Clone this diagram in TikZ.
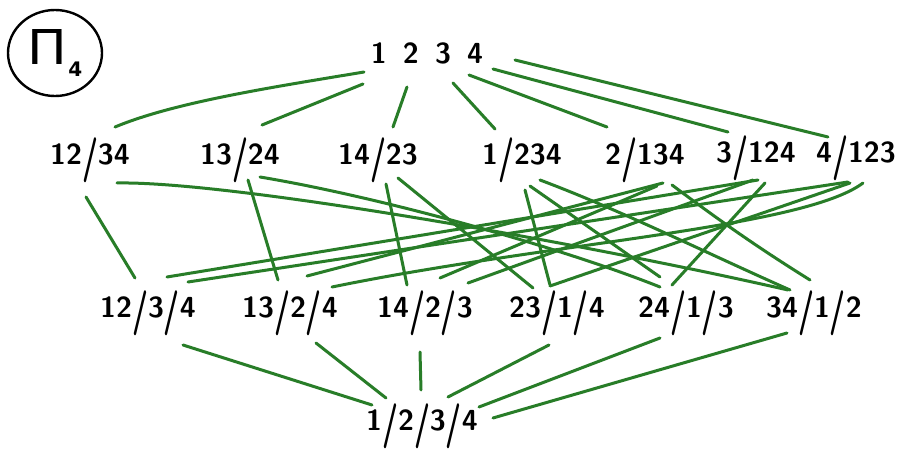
\documentclass[tikz,border=0pt]{standalone}
\usepackage{graphicx}
\usepackage{fontspec}
\usetikzlibrary{shapes.geometric}
\newfontfamily\djv{DejaVu Sans}
\definecolor{grn}{RGB}{40,125,40}
\newcommand{\sla}{\raisebox{-0.22em}{\scalebox{1}[1.55]{/}}}
\begin{document}
\begin{tikzpicture}[x=1pt,y=-1pt,
  lbl/.style={font=\sffamily\bfseries\fontsize{29}{34}\selectfont, inner sep=0pt, text=black},
  edge/.style={draw=grn, line width=3pt, line cap=round}]
\useasboundingbox[fill=white] (0,0) rectangle (898,473);
% title
\node[draw=black, line width=2.4pt, ellipse, minimum width=94pt, minimum height=86pt, inner sep=0pt, text=black] (Pt) at (55,53) {{\djv\fontsize{48}{50}\selectfont\scalebox{1.1}[1]{Π}}\kern1pt\raisebox{-12pt}{\djv\bfseries\fontsize{20}{22}\selectfont 4}};
% nodes
\node[lbl] (T) at (427,53) {1\;\;2\;\;3\;\;4};
\node[lbl] (A1) at (90,160) {12\sla34};
\node[lbl] (A2) at (240,160) {13\sla24};
\node[lbl] (A3) at (378,160) {14\sla23};
\node[lbl] (A4) at (522,160) {1\sla234};
\node[lbl] (A5) at (645,160) {2\sla134};
\node[lbl] (A6) at (756,158) {3\sla124};
\node[lbl] (A7) at (856,158) {4\sla123};
\node[lbl] (B1) at (148,313) {12\sla3\sla4};
\node[lbl] (B2) at (290,313) {13\sla2\sla4};
\node[lbl] (B3) at (425,313) {14\sla2\sla3};
\node[lbl] (B4) at (557,313) {23\sla1\sla4};
\node[lbl] (B5) at (686,313) {24\sla1\sla3};
\node[lbl] (B6) at (814,313) {34\sla1\sla2};
\node[lbl] (Z) at (422,426) {1\sla2\sla3\sla4};
% top edges
\draw[edge] ([shift={(-63,19)}]T.center) .. controls +(-90,15) and +(60,-25) .. ([shift={(25,-33)}]A1.center);
\draw[edge] ([shift={(-64,31)}]T.center) -- ([shift={(22,-35)}]A2.center);
\draw[edge] ([shift={(-20,34)}]T.center) -- ([shift={(15,-33)}]A3.center);
\draw[edge] ([shift={(26,30)}]T.center) -- ([shift={(-27,-31)}]A4.center);
\draw[edge] ([shift={(42,22)}]T.center) -- ([shift={(-38,-33)}]A5.center);
\draw[edge] ([shift={(66,16)}]T.center) -- ([shift={(-28,-26)}]A6.center);
\draw[edge] ([shift={(88,7)}]T.center) -- ([shift={(-28,-21)}]A7.center);
% middle edges
\draw[edge] ([shift={(-4,37)}]A1.center) -- ([shift={(-13,-35)}]B1.center);
\draw[edge] ([shift={(27,23)}]A1.center) .. controls +(110,-2) and +(-220,-50) .. ([shift={(-26,-23)}]B6.center);
\draw[edge] ([shift={(8,20)}]A2.center) -- ([shift={(-12,-33)}]B2.center);
\draw[edge] ([shift={(20,17)}]A2.center) .. controls +(120,20) and +(-100,-40) .. ([shift={(-26,-26)}]B5.center);
\draw[edge] ([shift={(8,24)}]A3.center) -- ([shift={(-18,-28)}]B3.center);
\draw[edge] ([shift={(20,18)}]A3.center) -- ([shift={(-24,-25)}]B4.center);
\draw[edge] ([shift={(3,30)}]A4.center) -- ([shift={(-7,-28)}]B4.center);
\draw[edge] ([shift={(8,26)}]A4.center) -- ([shift={(-26,-36)}]B5.center);
\draw[edge] ([shift={(18,20)}]A4.center) .. controls +(80,30) and +(-90,-40) .. ([shift={(-24,-23)}]B6.center);
\draw[edge] ([shift={(18,23)}]A5.center) -- ([shift={(17,-37)}]B2.center);
\draw[edge] ([shift={(12,26)}]A5.center) -- ([shift={(15,-35)}]B3.center);
\draw[edge] ([shift={(27,25)}]A5.center) .. controls +(60,45) and +(-40,-25) .. ([shift={(-4,-33)}]B6.center);
\draw[edge] ([shift={(-3,22)}]A6.center) -- ([shift={(43,-30)}]B3.center);
\draw[edge] ([shift={(2,22)}]A6.center) -- ([shift={(19,-36)}]B1.center);
\draw[edge] ([shift={(9,25)}]A6.center) -- ([shift={(-14,-28)}]B5.center);
\draw[edge] ([shift={(-8,24)}]A7.center) -- ([shift={(40,-31)}]B1.center);
\draw[edge] ([shift={(-6,25)}]A7.center) -- ([shift={(-7,-27)}]B4.center);
\draw[edge] ([shift={(7,25)}]A7.center) .. controls +(-60,45) and +(220,-45) .. ([shift={(42,-26)}]B2.center);
% bottom edges
\draw[edge] ([shift={(35,32)}]B1.center) -- ([shift={(-50,-21)}]Z.center);
\draw[edge] ([shift={(26,30)}]B2.center) -- ([shift={(-36,-28)}]Z.center);
\draw[edge] ([shift={(-5,39)}]B3.center) -- ([shift={(-1,-36)}]Z.center);
\draw[edge] ([shift={(-8,32)}]B4.center) -- ([shift={(26,-29)}]Z.center);
\draw[edge] ([shift={(-26,25)}]B5.center) -- ([shift={(57,-19)}]Z.center);
\draw[edge] ([shift={(-27,20)}]B6.center) -- ([shift={(71,-8)}]Z.center);
\end{tikzpicture}
\end{document}
